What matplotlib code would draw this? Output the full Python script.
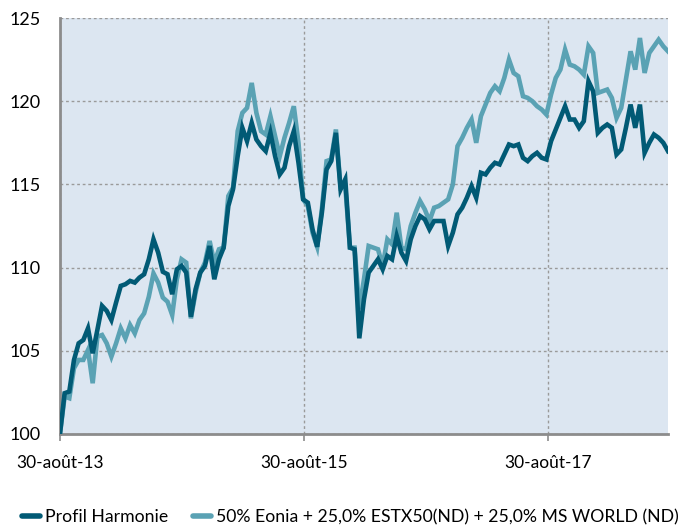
import pandas as pd
import matplotlib
matplotlib.use("Agg")
import matplotlib.pyplot as plt

# valeurs (pas de 14 jours à partir du 30/08/2013)
start_date = "2013-08-30"
step = "14D"

harmonie = [
    100.0, 102.45, 102.55, 104.45, 105.45, 105.65, 106.35, 104.85, 106.25, 107.7,
    107.4, 106.85, 107.9, 108.9, 109.0, 109.2, 109.1, 109.4, 109.6, 110.5,
    111.7, 110.9, 109.75, 109.6, 108.4, 109.9, 110.1, 109.7, 107.05, 108.7,
    109.7, 110.1, 111.3, 109.3, 110.5, 111.2, 113.7, 114.7, 116.7, 118.4,
    117.6, 118.7, 117.7, 117.3, 117.0, 118.1, 116.7, 115.6, 116.0, 117.3,
    118.2, 116.3, 114.1, 113.9, 112.3, 111.25, 113.3, 115.9, 116.4, 118.1,
    114.7, 115.3, 111.2, 111.1, 105.75, 108.1, 109.7, 110.1, 110.5, 109.9,
    110.7, 110.5, 111.9, 110.9, 110.4, 111.7, 112.5, 113.1, 112.9, 112.3,
    112.8, 112.8, 112.8, 111.3, 112.1, 113.2, 113.6, 114.2, 114.9, 114.2,
    115.7, 115.6, 116.0, 116.3, 116.2, 116.8, 117.4, 117.3, 117.4, 116.6,
    116.4, 116.7, 116.9, 116.6, 116.5, 117.6, 118.3, 119.0, 119.7, 118.9,
    118.9, 118.4, 118.8, 121.2, 120.6, 118.1, 118.4, 118.6, 118.4, 116.8,
    117.1, 118.4, 119.8, 118.4, 119.8, 116.9, 117.5, 118.0, 117.8, 117.5,
    117.0,
]

indice = [
    100.0, 102.25, 102.15, 103.95, 104.45, 104.45, 105.05, 103.05, 105.85, 105.95,
    105.45, 104.65, 105.45, 106.35, 105.75, 106.55, 106.05, 106.85, 107.25, 108.25,
    109.65, 109.1, 108.2, 107.95, 107.15, 109.3, 110.5, 110.3, 106.95, 108.5,
    109.7, 110.3, 111.6, 110.3, 111.1, 111.2, 114.3, 114.8, 118.2, 119.3,
    119.6, 121.1, 119.3, 118.2, 118.0, 119.1, 117.9, 116.7, 117.8, 118.7,
    119.7, 117.5, 114.1, 113.7, 112.1, 111.25, 113.5, 116.4, 116.5, 118.3,
    114.8, 114.9, 111.2, 111.2, 107.5, 109.3, 111.3, 111.2, 111.1, 110.1,
    111.7, 111.4, 113.3, 111.2, 111.1, 112.5, 113.3, 114.0, 113.5, 112.8,
    113.6, 113.7, 113.9, 114.1, 115.0, 117.3, 117.8, 118.4, 118.9, 117.5,
    119.1, 119.8, 120.5, 120.9, 120.6, 121.4, 122.5, 121.7, 121.5, 120.3,
    120.2, 120.0, 119.7, 119.5, 119.2, 120.4, 121.4, 121.9, 123.1, 122.2,
    122.1, 121.9, 121.6, 123.3, 122.9, 120.5, 120.6, 120.7, 120.2, 119.0,
    119.6, 121.3, 123.0, 121.9, 123.8, 121.7, 122.9, 123.3, 123.7, 123.3,
    123.0,
]

tick_dates = ["2013-08-30", "2015-08-30", "2017-08-30"]
tick_labels = ["30-août-13", "30-août-15", "30-août-17"]
y_ticks = [100, 105, 110, 115, 120, 125]

noms = ["Profil Harmonie", "50% Eonia + 25,0% ESTX50(ND) + 25,0% MS WORLD (ND)"]
couleurs = ["#015a75", "#5aa2b4"]

dates = pd.date_range(start=start_date, periods=len(harmonie), freq=step)

plt.rcParams["font.family"] = ["Lato", "DejaVu Sans"]

fig = plt.figure(figsize=(6.89, 5.27), dpi=100)
ax = fig.add_axes([0.087, 0.1765, 0.8825, 0.7893])
ax.set_facecolor("#dce6f1")

# l'indice d'abord, le profil par-dessus
ax.plot(dates, indice, color=couleurs[1], lw=3.3, solid_joinstyle="miter", label=noms[1], zorder=3)
ax.plot(dates, harmonie, color=couleurs[0], lw=3.3, solid_joinstyle="miter", label=noms[0], zorder=4)

ax.set_xlim(dates[0], dates[-1])
ax.set_ylim(100, 125)
ax.set_yticks(y_ticks)
ax.set_xticks(pd.to_datetime(tick_dates))
ax.set_xticklabels(tick_labels)

ax.grid(True, axis="both", color="#9a9a9a", linestyle=(0, (2, 2)), linewidth=1.0)
ax.set_axisbelow(True)

for s in ["top", "right"]:
    ax.spines[s].set_visible(False)
for s in ["left", "bottom"]:
    ax.spines[s].set_color("#8c8c8c")
    ax.spines[s].set_linewidth(2.0)

ax.tick_params(axis="y", length=0, pad=14, labelsize=13, colors="black")
ax.tick_params(axis="x", length=5, width=1.2, color="#8c8c8c", pad=10, labelsize=12.5)

handles, labels = ax.get_legend_handles_labels()
leg = fig.legend(handles[::-1], labels[::-1], loc="center", bbox_to_anchor=(0.509, 0.019),
                 ncol=2, frameon=False, fontsize=12.7, handlelength=1.0,
                 handletextpad=0.3, columnspacing=1.4, borderaxespad=0, borderpad=0)
for line in leg.get_lines():
    line.set_linewidth(4)
    line.set_solid_capstyle("round")

fig.savefig("out.png", dpi=100)
